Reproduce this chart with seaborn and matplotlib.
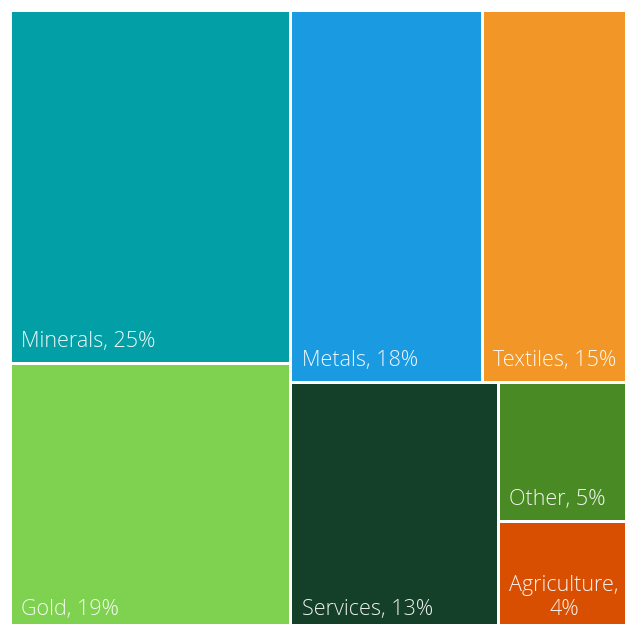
import matplotlib
matplotlib.use("Agg")
import matplotlib.pyplot as plt
from matplotlib import font_manager
from matplotlib.patches import Rectangle
import seaborn as sns

# Export composition by sector (percent)
sectors = ["Minerals", "Gold", "Metals", "Textiles", "Services", "Other", "Agriculture"]
shares = [25, 19, 18, 15, 13, 5, 4]
labels = ["Minerals, 25%", "Gold, 19%", "Metals, 18%", "Textiles, 15%",
          "Services, 13%", "Other, 5%", "Agriculture,\n4%"]
colors = ["#02A0A6", "#7ED24F", "#1A9AE1", "#F29627", "#143F28", "#4A8A25", "#D94F02"]

# strips of the treemap: indices into the lists above and the stacking direction
strips = [([0, 1], "col"), ([2, 3], "row"), ([4], "col"), ([5, 6], "col")]

sns.set_theme(style="white")
plt.rcParams["font.family"] = ["Open Sans", "DejaVu Sans"]
palette = sns.color_palette(colors)

# prefer the light, normal-width cut of Open Sans when it is installed
label_font = font_manager.FontProperties(family="Open Sans", weight="normal", stretch="normal")
label_size = 15.5
for f in font_manager.fontManager.ttflist:
    name = f.fname.lower()
    if (f.name == "Open Sans" and f.style == "normal" and f.stretch == "normal"
            and f.weight in (300, "light") and "cond" not in name):
        label_font = font_manager.FontProperties(fname=f.fname)
        label_size = 15.5
        break
label_font.set_size(label_size)


def layout(values, strips, x, y, w, h):
    scale = w * h / sum(values)
    rects = {}
    for idx, orient in strips:
        area = sum(values[i] for i in idx) * scale
        if orient == "col":
            cw = area / h
            yy = y
            for i in idx:
                ch = values[i] * scale / cw
                rects[i] = (x, yy, cw, ch)
                yy += ch
            x += cw
            w -= cw
        else:
            rh = area / w
            xx = x
            for i in idx:
                cw = values[i] * scale / rh
                rects[i] = (xx, y, cw, rh)
                xx += cw
            y += rh
            h -= rh
    return rects


W, H = 625, 624
fig = plt.figure(figsize=(W / 100, H / 100), dpi=100)
ax = fig.add_axes([0, 0, 1, 1])
ax.set_xlim(0, W)
ax.set_ylim(H, 0)
ax.axis("off")

rects = layout(shares, strips, 10, 10, 632, 621.5)
gap = 1.5
for i, (x, y, w, h) in rects.items():
    ax.add_patch(Rectangle((x + gap, y + gap), w - 2 * gap, h - 2 * gap,
                           facecolor=palette[i], edgecolor="none"))
    ax.text(x + gap + 9.5, y + h - gap - 15, labels[i], color="white", alpha=0.92,
            fontproperties=label_font, ha="left", va="baseline",
            multialignment="center", linespacing=1.2)

fig.savefig("out.png", dpi=100)
